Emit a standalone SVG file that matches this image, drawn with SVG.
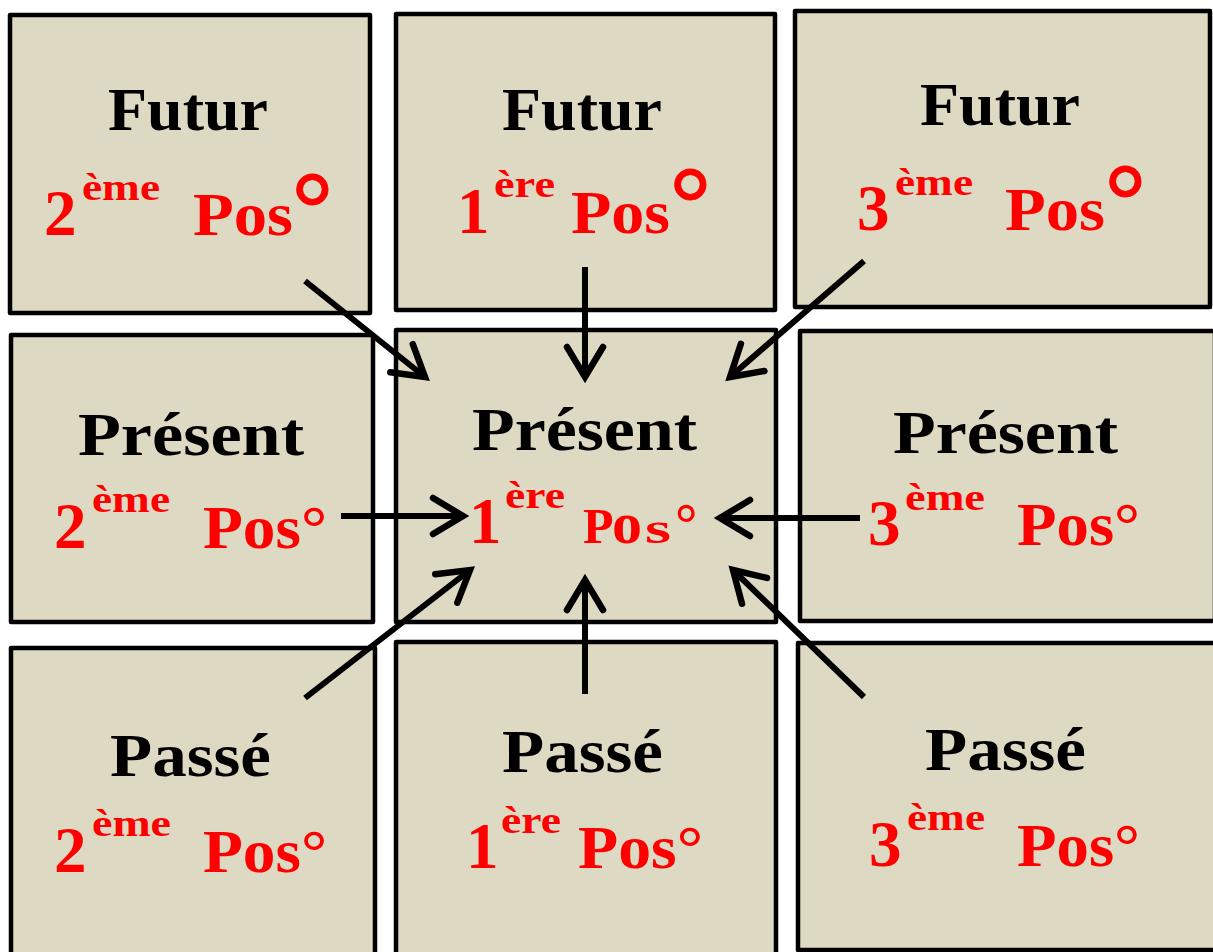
<svg xmlns="http://www.w3.org/2000/svg" width="1213" height="952" viewBox="0 0 1213 952">
<defs>
<style>
.box{fill:#DDD9C3;stroke:#000;stroke-width:4.5;stroke-linejoin:round}
.t{font-family:"Liberation Serif","Times New Roman",serif;font-weight:bold;font-size:62px;fill:#000}
.r{fill:#FF0000}
.d{font-size:65px}
.sup{font-size:38px}
.ring{font-family:"Liberation Sans",Arial,sans-serif;font-weight:normal;font-size:112px;fill:#FF0000;stroke:#FF0000;stroke-width:0.8}
.arr{stroke:#000;stroke-width:6;fill:none;stroke-linecap:butt}
</style>
<marker id="ah" markerUnits="userSpaceOnUse" markerWidth="60" markerHeight="60" viewBox="-40 -30 50 60" refX="0" refY="0" orient="auto">
<path d="M-30,-18 L0,0 L-30,18" fill="none" stroke="#000" stroke-width="6.5" stroke-linecap="round" stroke-linejoin="miter"/>
</marker>
</defs>
<rect width="1213" height="952" fill="#fff"/>

<g id="futur2">
<rect class="box" x="10" y="15" width="360" height="298"/>
<text class="t" x="108" y="130" textLength="160" lengthAdjust="spacingAndGlyphs">Futur</text>
<text class="t r d" x="44" y="235">2</text>
<text class="t r sup" x="82" y="200" textLength="78" lengthAdjust="spacingAndGlyphs">ème</text>
<text class="t r" x="193" y="235" textLength="100" lengthAdjust="spacingAndGlyphs">Pos</text>
<text class="ring" x="290" y="252">°</text>
</g>

<g id="futur1">
<rect class="box" x="396" y="14" width="379" height="296"/>
<text class="t" x="502" y="130" textLength="160" lengthAdjust="spacingAndGlyphs">Futur</text>
<text class="t r d" x="457" y="233">1</text>
<text class="t r sup" x="494" y="197" textLength="61" lengthAdjust="spacingAndGlyphs">ère</text>
<text class="t r" x="571" y="233" textLength="99" lengthAdjust="spacingAndGlyphs">Pos</text>
<text class="ring" x="668" y="247">°</text>
</g>

<g id="futur3">
<rect class="box" x="795" y="11" width="415" height="296"/>
<text class="t" x="920" y="125" textLength="160" lengthAdjust="spacingAndGlyphs">Futur</text>
<text class="t r d" x="857" y="230">3</text>
<text class="t r sup" x="895" y="195" textLength="78" lengthAdjust="spacingAndGlyphs">ème</text>
<text class="t r" x="1005" y="230" textLength="100" lengthAdjust="spacingAndGlyphs">Pos</text>
<text class="ring" x="1103" y="244">°</text>
</g>

<g id="present2">
<rect class="box" x="11" y="335" width="362" height="287"/>
<text class="t" x="78" y="455" textLength="226" lengthAdjust="spacingAndGlyphs">Présent</text>
<text class="t r d" x="54" y="548">2</text>
<text class="t r sup" x="92" y="512" textLength="78" lengthAdjust="spacingAndGlyphs">ème</text>
<text class="t r" x="203" y="548" textLength="124" lengthAdjust="spacingAndGlyphs">Pos°</text>
</g>

<g id="present1">
<rect class="box" x="396" y="330" width="380" height="292"/>
<text class="t" x="472" y="450" textLength="225" lengthAdjust="spacingAndGlyphs">Présent</text>
<text class="t r d" x="469" y="543">1</text>
<text class="t r sup" x="505" y="508" textLength="60" lengthAdjust="spacingAndGlyphs">ère</text>
<text class="t r" x="583" y="543" style="font-size:50px">P</text>
<text class="t r" x="612" y="543" style="font-size:60px">o</text>
<text class="t r" x="645" y="543" style="font-size:44px" textLength="26" lengthAdjust="spacingAndGlyphs">s</text>
<text class="t r" x="675" y="543" style="font-size:56px">°</text>
</g>

<g id="present3">
<rect class="box" x="800" y="331" width="415" height="290"/>
<text class="t" x="893" y="453" textLength="225" lengthAdjust="spacingAndGlyphs">Présent</text>
<text class="t r d" x="868" y="545">3</text>
<text class="t r sup" x="905" y="510" textLength="80" lengthAdjust="spacingAndGlyphs">ème</text>
<text class="t r" x="1017" y="545" textLength="123" lengthAdjust="spacingAndGlyphs">Pos°</text>
</g>

<g id="passe2">
<rect class="box" x="11" y="648" width="364" height="320"/>
<text class="t" x="110" y="776" textLength="161" lengthAdjust="spacingAndGlyphs">Passé</text>
<text class="t r d" x="54" y="872">2</text>
<text class="t r sup" x="92" y="836" textLength="79" lengthAdjust="spacingAndGlyphs">ème</text>
<text class="t r" x="203" y="872" textLength="124" lengthAdjust="spacingAndGlyphs">Pos°</text>
</g>

<g id="passe1">
<rect class="box" x="396" y="642" width="380" height="320"/>
<text class="t" x="502" y="772" textLength="161" lengthAdjust="spacingAndGlyphs">Passé</text>
<text class="t r d" x="466" y="868">1</text>
<text class="t r sup" x="501" y="833" textLength="60" lengthAdjust="spacingAndGlyphs">ère</text>
<text class="t r" x="578" y="868" textLength="125" lengthAdjust="spacingAndGlyphs">Pos°</text>
</g>

<g id="passe3">
<rect class="box" x="798" y="643" width="420" height="307"/>
<text class="t" x="925" y="770" textLength="161" lengthAdjust="spacingAndGlyphs">Passé</text>
<text class="t r d" x="869" y="866">3</text>
<text class="t r sup" x="907" y="830" textLength="78" lengthAdjust="spacingAndGlyphs">ème</text>
<text class="t r" x="1017" y="866" textLength="123" lengthAdjust="spacingAndGlyphs">Pos°</text>
</g>

<g id="connectors">
<line class="arr" x1="305" y1="281" x2="425" y2="377" marker-end="url(#ah)"/>
<line class="arr" x1="585" y1="267" x2="585" y2="377" marker-end="url(#ah)"/>
<line class="arr" x1="864" y1="261" x2="730" y2="377" marker-end="url(#ah)"/>
<line class="arr" x1="341" y1="516" x2="463" y2="516" marker-end="url(#ah)"/>
<line class="arr" x1="860" y1="518" x2="720" y2="518" marker-end="url(#ah)"/>
<line class="arr" x1="305" y1="698" x2="470" y2="570" marker-end="url(#ah)"/>
<line class="arr" x1="585" y1="694" x2="585" y2="580" marker-end="url(#ah)"/>
<line class="arr" x1="864" y1="697" x2="733" y2="570" marker-end="url(#ah)"/>
</g>
</svg>
